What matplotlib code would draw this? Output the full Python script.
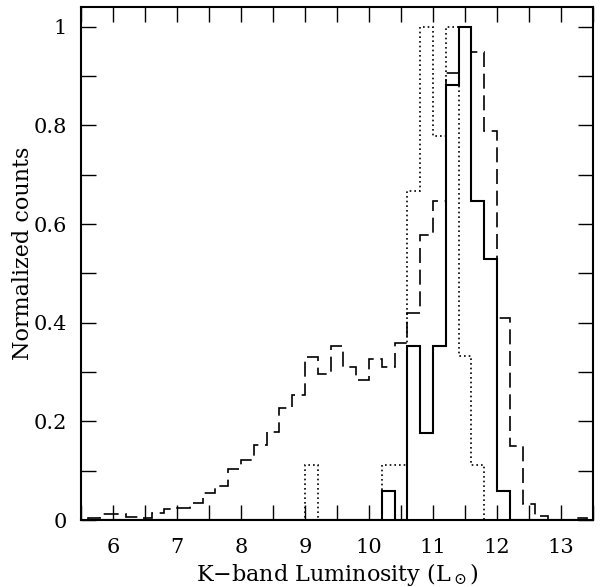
import matplotlib
matplotlib.use("Agg")
import matplotlib.pyplot as plt
from matplotlib.ticker import MultipleLocator, FixedLocator
import numpy as np

plt.rcParams['font.family'] = ['DejaVu Serif']
plt.rcParams['mathtext.fontset'] = 'dejavuserif'

# histogram bins in log L_K, width 0.2 (5.6 ... 13.4)
bin_edges = np.round(np.arange(5.6, 13.41, 0.2), 1)

# dashed: full sample
dashed_counts = [0.004, 0.012, 0.012, 0.007, 0.004, 0.014, 0.022, 0.025, 0.035, 0.055,
                 0.069, 0.104, 0.122, 0.153, 0.178, 0.228, 0.254, 0.331, 0.296, 0.352,
                 0.311, 0.283, 0.326, 0.311, 0.358, 0.420, 0.578, 0.647, 0.906, 1.000,
                 0.948, 0.788, 0.409, 0.150, 0.033, 0.009, 0.0, 0.0, 0.004]

# solid
solid_counts = [0, 0, 0, 0, 0, 0, 0, 0, 0, 0,
                0, 0, 0, 0, 0, 0, 0, 0, 0, 0,
                0, 0, 0, 0.059, 0, 0.353, 0.176, 0.353, 0.882, 1.000,
                0.647, 0.529, 0.059, 0, 0, 0, 0, 0, 0]

# dotted
dotted_counts = [0, 0, 0, 0, 0, 0, 0, 0, 0, 0,
                 0, 0, 0, 0, 0, 0, 0, 0.111, 0, 0,
                 0, 0, 0, 0.111, 0.111, 0.667, 1.000, 0.778, 1.000, 0.333,
                 0.111, 0, 0, 0, 0, 0, 0, 0, 0]

x_ticks = [6, 7, 8, 9, 10, 11, 12, 13]
y_ticks = [0, 0.2, 0.4, 0.6, 0.8, 1.0]
y_tick_labels = ["0", "0.2", "0.4", "0.6", "0.8", "1"]

fig = plt.figure(figsize=(6.1, 5.87), dpi=100)
ax = fig.add_axes([0.133, 0.114, 0.839, 0.874])

ax.stairs(dashed_counts, bin_edges, color='black', lw=1.2, linestyle=(0, (9, 4)))
ax.stairs(solid_counts, bin_edges, color='black', lw=1.5)
ax.stairs(dotted_counts, bin_edges, color='black', lw=1.2, linestyle=(0, (1, 1.8)))

ax.set_xlim(5.5, 13.5)
ax.set_ylim(0, 1.04)

ax.xaxis.set_major_locator(FixedLocator(x_ticks))
ax.xaxis.set_minor_locator(MultipleLocator(0.5))
ax.yaxis.set_major_locator(FixedLocator(y_ticks))
ax.set_yticklabels(y_tick_labels)
ax.yaxis.set_minor_locator(MultipleLocator(0.1))

ax.tick_params(which='both', direction='in', top=True, right=True,
               length=11, width=1.0, labelsize=15)
ax.tick_params(axis='x', which='major', pad=13)
ax.tick_params(axis='y', which='major', pad=10)
for s in ax.spines.values():
    s.set_linewidth(1.5)

ax.set_xlabel(r'K$-$band Luminosity (L$_\odot$)', fontsize=16, labelpad=3)
ax.set_ylabel('Normalized counts', fontsize=16)
ax.yaxis.set_label_coords(-0.092, 0.52)

fig.savefig("out.png", dpi=100)
